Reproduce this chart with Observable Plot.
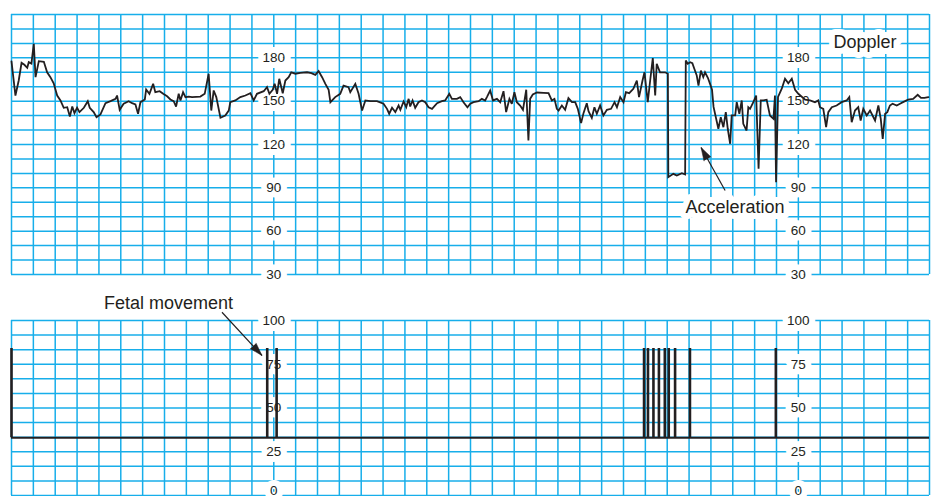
<!DOCTYPE html>
<html>
<head>
<meta charset="utf-8">
<script src="https://cdn.jsdelivr.net/npm/d3@7"></script>
<script src="https://cdn.jsdelivr.net/npm/@observablehq/plot@0.6"></script>
<style>
  html, body { margin: 0; padding: 0; background: #fff; }
  #chart svg { display: block; }
</style>
</head>
<body>
<div id="chart"></div>
<script>
// ---- Data (time in chart-grid units, 0..42) ----
// Fetal heart rate trace, [time, bpm]
const fhr = [
  [0,177.5],[0.18,153.9],[0.33,164.3],[0.46,176.6],[0.59,175.2],[0.72,173.1],[0.79,177],[0.91,176],[1.02,189.7],[1.10,166.6],
  [1.25,177.7],[1.48,177.3],[1.63,170],[1.78,166.6],[1.93,162.4],[2.09,153.9],[2.24,150.5],[2.39,145.4],[2.55,145.8],[2.67,139.4],
  [2.78,146.3],[2.88,141.7],[3.00,145.4],[3.11,142.4],[3.31,145.4],[3.49,150],[3.58,145.4],[3.76,142.4],[3.89,138.9],[4.07,140.8],
  [4.30,148.6],[4.53,150],[4.76,151.6],[4.83,153.9],[4.95,144],[5.13,148.2],[5.36,150],[5.52,148.6],[5.67,147.7],[5.79,141.3],
  [5.90,149.3],[6.10,151.2],[6.16,158.1],[6.31,155.1],[6.48,162],[6.58,156.2],[6.78,156.9],[6.94,155.1],[7.12,153.4],[7.27,151.2],
  [7.42,150],[7.53,146.3],[7.65,155.1],[7.73,150.5],[7.85,156.2],[7.96,152.8],[8.11,153.2],[8.26,152.8],[8.64,153.2],[8.84,155.1],
  [9.02,169],[9.14,143.5],[9.25,157.4],[9.37,152.8],[9.56,138.5],[9.78,140.1],[9.94,143.5],[10.01,149.3],[10.24,150.5],[10.47,152.8],
  [10.70,153.9],[10.93,155.5],[11.08,150.5],[11.23,155.1],[11.54,156.9],[11.69,159.7],[11.80,155.1],[11.95,157.9],[12.04,162],[12.15,155.1],
  [12.25,165.5],[12.41,155.5],[12.53,164.3],[12.68,166.6],[12.80,170],[12.99,169],[13.21,169.6],[13.52,170],[13.72,169.4],[13.90,168.2],
  [14.05,170.8],[14.21,166.6],[14.36,162],[14.51,157.9],[14.59,149.3],[14.81,152.8],[15.04,155.1],[15.19,160.8],[15.42,159.7],[15.50,156.2],
  [15.73,162],[15.88,155.1],[16.04,143.5],[16.19,150.5],[16.42,150],[16.72,150],[17.02,148.2],[17.18,144.7],[17.28,141.3],[17.41,145.4],
  [17.56,142.4],[17.71,147],[17.79,144],[17.94,149.8],[18.06,145.8],[18.17,151.6],[18.24,146.3],[18.35,150.5],[18.47,145.4],[18.62,149.3],
  [18.78,150.5],[18.93,149.3],[19.08,145.8],[19.24,144.7],[19.47,148.6],[19.69,150],[19.84,150.5],[20.03,155.1],[20.15,151.6],[20.38,151.6],
  [20.53,152.8],[20.68,149.3],[20.86,145.8],[20.99,148.2],[21.14,149.3],[21.37,150],[21.52,151.6],[21.67,150.5],[21.75,152.8],[21.90,157.4],
  [22.03,150.5],[22.21,151.6],[22.36,149.3],[22.51,156.9],[22.63,142.4],[22.78,151.6],[22.89,148.2],[23.01,156.2],[23.12,149.3],[23.27,147],
  [23.40,144],[23.55,157.9],[23.65,122.8],[23.73,151.6],[23.85,154.6],[24.04,156],[24.34,155.8],[24.57,155.5],[24.72,150.5],[24.84,151.6],
  [24.95,144.7],[25.03,143.5],[25.18,147],[25.33,144],[25.48,152.1],[25.64,149.3],[25.79,149.3],[25.91,144.7],[26.06,134.8],[26.17,141.7],
  [26.32,148.6],[26.40,143.1],[26.55,138.5],[26.67,145.8],[26.78,141.3],[26.93,147],[27.08,140.1],[27.24,144],[27.43,144.7],[27.59,149.3],
  [27.70,145.8],[27.85,152.8],[28.00,149.3],[28.11,156.2],[28.26,155.5],[28.45,158.6],[28.61,164.3],[28.71,152.8],[28.87,164.3],[28.96,170],
  [29.11,149.3],[29.22,164.3],[29.34,179.8],[29.45,153.9],[29.52,175.9],[29.67,170],[29.90,170],[30.03,169],[30.05,97.4],[30.28,99.7],
  [30.44,98.5],[30.67,100.1],[30.82,99.2],[30.85,178.2],[30.94,175.9],[31.05,177],[31.15,176.3],[31.24,172.4],[31.35,167.8],[31.43,160.8],
  [31.54,171.2],[31.65,166.6],[31.73,170],[31.86,166.2],[31.96,162],[32.05,158],[32.12,146],[32.34,130.9],[32.45,138.9],[32.57,132],
  [32.68,142.4],[32.77,130.9],[32.88,120.5],[32.95,140.1],[33.11,140.1],[33.18,149.3],[33.30,141.3],[33.41,150.5],[33.48,134.3],[33.63,129.7],
  [33.71,145.8],[33.79,144.7],[33.94,149.3],[34.07,153.9],[34.18,103.2],[34.28,150.5],[34.40,150.5],[34.55,151],[34.70,140.1],[34.86,137.8],
  [34.93,153.9],[34.98,93.9],[35.07,153],[35.24,158.6],[35.39,165.5],[35.54,162.4],[35.70,165.5],[35.85,157.9],[36.00,155.1],[36.31,151],
  [36.53,150.5],[36.76,149.3],[36.91,150.5],[36.99,145.8],[37.14,144.7],[37.27,132],[37.37,142.4],[37.53,145.8],[37.75,147],[37.98,149.3],
  [38.21,150.5],[38.33,152.8],[38.44,135.4],[38.59,143.5],[38.74,145.8],[38.85,136.6],[38.97,144.7],[39.13,140.1],[39.28,143.5],[39.51,136.6],
  [39.66,147],[39.77,137.8],[39.86,123.9],[39.97,141.3],[40.07,142.4],[40.19,147],[40.31,148.2],[40.50,147],[40.65,148.2],[40.79,149.3],
  [41.02,151],[41.25,151.6],[41.46,154.4],[41.61,152.3],[41.77,152.3],[41.95,152.8]
];

// Fetal movement marks
const movementTimes = [0, 11.70, 12.13, 28.94, 29.12, 29.37, 29.62, 29.89, 30.07, 30.36, 31.04, 34.97];
const movementBaseline = 33;
const movementPeak = 84;

// Tick labels
const hrTicks = [180, 150, 120, 90, 60, 30];
const moveTicks = [100, 75, 50, 25, 0];
const labelTimes = [12, 36];

// Annotations [text, time, value]
const topNotes = [["Doppler", 39.05, 190.8], ["Acceleration", 33.10, 76.6]];
const bottomNotes = [["Fetal movement", 7.18, 109.9]];
// arrows: tail (t1,v1) -> tip (t2,v2), head rotation (deg)
const accelArrow = [{t1: 32.65, v1: 88.2, t2: 31.55, v2: 117.9, angle: -29.2}];
const movementArrow = [{t1: 9.63, v1: 104.7, t2: 11.46, v2: 80, angle: 137.3}];

// ---- Styling ----
const gridColor = "#17aeea";
const ink = "#231f20";
const font = "'Liberation Sans', Arial, Helvetica, sans-serif";
const xDomain = [0, 42];
const gridTimes = d3.range(0, 43);
const hrGrid = d3.range(30, 211, 10);
const moveGrid = d3.range(0, 13).map(i => i * 100 / 12);

const cross = (xs, ys) => xs.flatMap(x => ys.map(y => ({x, y})));

const topPlot = Plot.plot({
  width: 936, height: 290,
  marginTop: 14, marginBottom: 16, marginLeft: 11, marginRight: 7,
  x: {domain: xDomain, axis: null},
  y: {domain: [30, 210], axis: null},
  style: {fontFamily: font, background: "white", overflow: "visible"},
  marks: [
    Plot.ruleX(gridTimes, {stroke: gridColor, strokeWidth: 1.5}),
    Plot.ruleY(hrGrid, {stroke: gridColor, strokeWidth: 1.5}),
    Plot.text(cross(labelTimes, hrTicks), {x: "x", y: "y", text: d => String(d.y),
      fill: ink, stroke: "white", strokeWidth: 12, fontSize: 13.5}),
    Plot.line(fhr, {x: d => d[0], y: d => d[1], stroke: ink, strokeWidth: 1.8, strokeLinejoin: "miter", strokeMiterlimit: 3}),
    Plot.text(topNotes, {x: d => d[1], y: d => d[2], text: d => d[0],
      fill: ink, stroke: "white", strokeWidth: 12, fontSize: 18}),
    Plot.link(accelArrow, {x1: "t1", y1: "v1", x2: "t2", y2: "v2", stroke: ink, strokeWidth: 1.2}),
    Plot.vector(accelArrow, {x: "t2", y: "v2", rotate: "angle", length: 13, r: 4, shape: "spike", anchor: "end", fill: ink, stroke: ink, strokeWidth: 0.5})
  ]
});

const bottomPlot = Plot.plot({
  width: 936, height: 206,
  marginTop: 30, marginBottom: 1, marginLeft: 11, marginRight: 7,
  x: {domain: xDomain, axis: null},
  y: {domain: [0, 100], axis: null},
  style: {fontFamily: font, background: "white", overflow: "visible"},
  marks: [
    Plot.ruleX(gridTimes, {stroke: gridColor, strokeWidth: 1.5}),
    Plot.ruleY(moveGrid, {stroke: gridColor, strokeWidth: 1.5}),
    Plot.text(cross(labelTimes, moveTicks), {x: "x", y: "y", text: d => String(d.y),
      dy: -5, filter: d => d.y === 0,
      fill: ink, stroke: "white", strokeWidth: 12, fontSize: 13.5}),
    Plot.text(cross(labelTimes, moveTicks), {x: "x", y: "y", text: d => String(d.y),
      filter: d => d.y !== 0,
      fill: ink, stroke: "white", strokeWidth: 12, fontSize: 13.5}),
    Plot.ruleY([movementBaseline], {stroke: ink, strokeWidth: 2}),
    Plot.ruleX(movementTimes, {y1: movementBaseline, y2: movementPeak, stroke: ink, strokeWidth: 2.6}),
    Plot.text(bottomNotes, {x: d => d[1], y: d => d[2], text: d => d[0], fill: ink, fontSize: 18}),
    Plot.link(movementArrow, {x1: "t1", y1: "v1", x2: "t2", y2: "v2", stroke: ink, strokeWidth: 1.2}),
    Plot.vector(movementArrow, {x: "t2", y: "v2", rotate: "angle", length: 13, r: 4, shape: "spike", anchor: "end", fill: ink, stroke: ink, strokeWidth: 0.5})
  ]
});

const chart = document.getElementById("chart");
chart.appendChild(topPlot);
chart.appendChild(bottomPlot);
</script>
</body>
</html>
